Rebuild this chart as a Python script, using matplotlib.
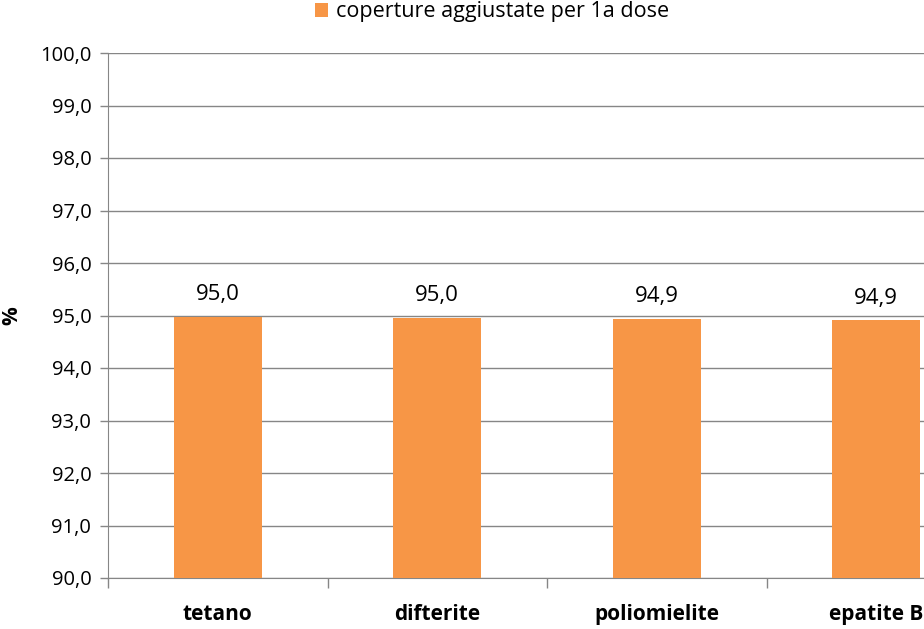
import matplotlib
matplotlib.use("Agg")
import matplotlib.pyplot as plt
import numpy as np

categories = ["tetano", "difterite", "poliomielite", "epatite B"]
values = [94.97, 94.96, 94.93, 94.91]
series_name = "coperture aggiustate per 1a dose"
yticks = [90.0, 91.0, 92.0, 93.0, 94.0, 95.0, 96.0, 97.0, 98.0, 99.0, 100.0]

plt.rcParams['font.family'] = ['Open Sans', 'DejaVu Sans']

W, H = 924, 629
fig = plt.figure(figsize=(W / 100, H / 100), dpi=100)
ax_left, ax_right, ax_top, ax_bottom = 108, 986, 53, 578
ax = fig.add_axes([ax_left / W, (H - ax_bottom) / H, (ax_right - ax_left) / W, (ax_bottom - ax_top) / H])

grey = "#868686"
x = np.arange(len(categories))
bars = ax.bar(x, [v - 90 for v in values], bottom=90, width=0.4, color="#F79646", zorder=3, label=series_name)
ax.set_xlim(-0.5, len(categories) - 0.5)
ax.set_ylim(90, 100)
ax.set_yticks(yticks)
ax.set_yticklabels([f"{t:.1f}".replace(".", ",") for t in yticks], fontsize=14.5)
ax.yaxis.grid(True, color=grey, linewidth=1, zorder=0)
ax.set_axisbelow(True)

ax.set_xticks(np.arange(len(categories) + 1) - 0.5, minor=False)
ax.set_xticklabels([])
ax.tick_params(axis='x', length=7, color=grey, width=1)
ax.tick_params(axis='y', length=6, color=grey, width=1, pad=6)
ax.set_xticks(x, minor=True)
ax.set_xticklabels(categories, minor=True, fontsize=15, fontweight='bold')
ax.tick_params(axis='x', which='minor', length=0, pad=19)

for s in ["top", "right"]:
    ax.spines[s].set_visible(False)
for s in ["left", "bottom"]:
    ax.spines[s].set_color(grey)

for xi, v in zip(x, values):
    ax.annotate(f"{v:.1f}".replace(".", ","), (xi, v), xytext=(0, 16), textcoords="offset points",
                ha="center", va="center", fontsize=16)

ax.set_ylabel("%", fontsize=15, fontweight='bold')
ax.yaxis.set_label_coords(-86 / (ax_right - ax_left), 0.5)

fig.legend(handles=[bars], labels=[series_name], loc="center", bbox_to_anchor=(492 / W, 1 - 12 / H),
           frameon=False, fontsize=15.5, handlelength=0.6, handleheight=0.6, handletextpad=0.4)

fig.savefig("out.png", dpi=100)
